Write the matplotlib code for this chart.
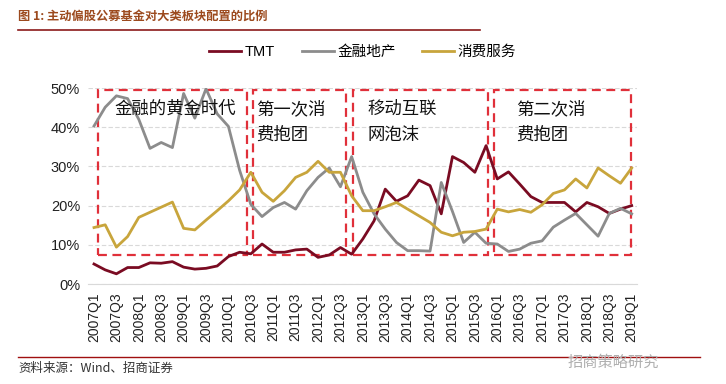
import matplotlib
matplotlib.use("Agg")
import matplotlib.pyplot as plt
import matplotlib.patches as patches

plt.rcParams['font.family'] = ['Liberation Sans', 'Noto Sans CJK SC', 'DejaVu Sans']

# quarters 2007Q1 .. 2019Q1
quarters = [f"{y}Q{q}" for y in range(2007, 2020) for q in range(1, 5)][:49]

# allocation shares, %
tmt = [5.1, 3.6, 2.6, 4.2, 4.2, 5.4, 5.3, 5.7, 4.3, 3.8, 4.0, 4.6, 7.0, 8.1, 7.7, 10.2,
       8.1, 8.1, 8.7, 8.9, 6.8, 7.4, 9.3, 7.6, 11.5, 16.1, 24.2, 21.1, 22.5, 26.5, 25.1, 17.9,
       32.5, 31.0, 28.5, 35.3, 26.8, 28.6, 25.5, 22.3, 20.8, 20.8, 20.8, 18.4, 20.8, 19.7, 18.0,
       19.1, 20.0]
finance = [40.3, 45.1, 48.0, 47.3, 42.0, 34.6, 36.1, 34.8, 48.6, 42.3, 49.8, 43.4, 40.2, 29.0,
           20.3, 17.2, 19.5, 20.8, 19.1, 23.8, 27.2, 29.6, 24.8, 32.5, 23.4, 17.9, 14.0, 10.6,
           8.5, 8.5, 8.4, 25.9, 18.5, 10.6, 13.2, 10.4, 10.2, 8.3, 8.9, 10.4, 11.0, 14.5, 16.3,
           18.0, 15.1, 12.2, 18.0, 19.3, 17.9]
consumer = [14.4, 15.1, 9.4, 12.1, 17.0, 18.3, 19.6, 20.9, 14.2, 13.8, 16.3, 18.7, 21.2, 24.0,
            28.5, 23.4, 21.1, 23.8, 27.2, 28.5, 31.3, 28.5, 28.5, 22.5, 18.7, 18.7, 19.7, 20.8,
            19.1, 17.4, 15.7, 13.2, 12.3, 13.2, 13.4, 14.0, 19.1, 18.4, 19.0, 18.3, 20.2, 23.1,
            24.0, 26.8, 24.5, 29.6, 27.6, 25.7, 29.6]

# annotated periods: (start, end) in quarter index, label
periods = [(0.4, 13.7, "金融的黄金时代"),
           (14.2, 22.5, "第一次消\n费抱团"),
           (23.1, 35.2, "移动互联\n网泡沫"),
           (35.7, 47.9, "第二次消\n费抱团")]
label_pos = [(1.8, 47.0), (14.5, 47.0), (24.4, 47.0), (37.7, 47.0)]

W, H = 726, 384
fig = plt.figure(figsize=(W / 100, H / 100), dpi=100)
ax = fig.add_axes([88.4 / W, 1 - 284 / H, (637.3 - 88.4) / W, (284 - 88) / H])

x = list(range(len(quarters)))
ax.plot(x, tmt, color='#7a0b22', lw=2.0, label='TMT')
ax.plot(x, finance, color='#8c8c8c', lw=2.0, label='金融地产')
ax.plot(x, consumer, color='#c8a53c', lw=2.0, label='消费服务')

ax.set_xlim(-0.5, 48.5)
ax.set_ylim(0, 50)
ax.set_yticks(range(0, 51, 10))
ax.set_yticklabels([f"{v}%" for v in range(0, 51, 10)], fontsize=10.5, color='#222222')
ax.set_xticks(x[::2])
ax.set_xticklabels(quarters[::2], rotation=90, fontsize=10, color='#222222')
ax.tick_params(length=0, pad=6)
ax.grid(axis='y', color='#d9d9d9', linestyle=(0, (4, 2)), lw=0.8)
ax.set_axisbelow(True)
for s in ['top', 'right', 'left']:
    ax.spines[s].set_visible(False)
ax.spines['bottom'].set_color('#d9d9d9')

# red dashed boxes
for (x0, x1, txt), (tx, ty) in zip(periods, label_pos):
    rect = patches.Rectangle((x0, 7.5), x1 - x0, 49.6 - 7.5, fill=False,
                             edgecolor='#e0303a', lw=1.6, linestyle=(0, (4, 2.5)),
                             clip_on=False)
    ax.add_patch(rect)
    ax.text(tx, ty, txt, fontsize=12.5, family='Noto Sans CJK SC', va='top',
            ha='left', color='#111111', linespacing=1.6)

ax.legend(loc='center', bbox_to_anchor=(0.5, 1 + 36 / 196), ncol=3, frameon=False,
          fontsize=10.5, handlelength=2.2, columnspacing=1.8, handletextpad=0.25,
          borderaxespad=0)

# title and rules
fig.text(18 / W, 1 - 16 / H, "图 1: 主动偏股公募基金对大类板块配置的比例", fontsize=8.8,
         fontweight='bold', color='#9c4a1e', va='center', ha='left',
         family=['Noto Sans CJK SC', 'DejaVu Sans'])
fig.add_artist(plt.Line2D([18 / W, 480 / W], [1 - 30 / H, 1 - 30 / H], color='#8b1a1a', lw=1.2))
fig.add_artist(plt.Line2D([18 / W, 700 / W], [1 - 357 / H, 1 - 357 / H], color='#a01010', lw=1.0))
fig.text(18 / W, 1 - 368 / H, "资料来源：Wind、招商证券", fontsize=9, color='#333333',
         va='center', ha='left', family=['Noto Sans CJK SC', 'DejaVu Sans'])
fig.text(568 / W, 1 - 362 / H, "招商策略研究", fontsize=11, color='#b0b0b0',
         va='center', ha='left', family=['Noto Sans CJK SC', 'DejaVu Sans'])

fig.savefig('out.png', dpi=100)
